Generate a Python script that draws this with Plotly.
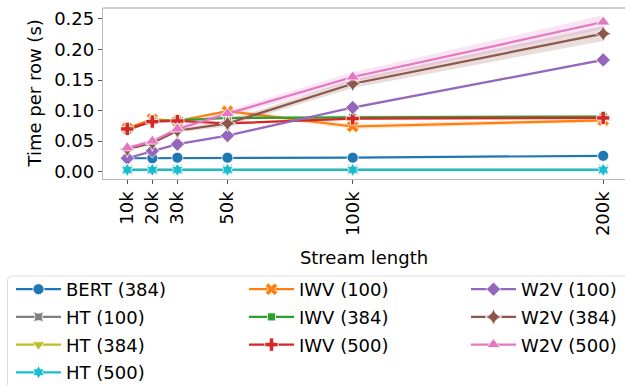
import plotly.graph_objects as go

# Stream lengths (rows) and their tick labels
stream_len = [10000, 20000, 30000, 50000, 100000, 200000]
tick_labels = ["10k", "20k", "30k", "50k", "100k", "200k"]

# Mean time per row (s) for each model
bert_384 = [0.022, 0.022, 0.023, 0.023, 0.023, 0.026]
iwv_100 = [0.071, 0.086, 0.083, 0.099, 0.074, 0.084]
iwv_384 = [0.068, 0.083, 0.084, 0.088, 0.089, 0.090]
iwv_500 = [0.070, 0.082, 0.083, 0.079, 0.087, 0.088]
w2v_100 = [0.022, 0.034, 0.045, 0.059, 0.105, 0.183]
w2v_384 = [0.037, 0.047, 0.067, 0.079, 0.144, 0.226]
w2v_500 = [0.039, 0.050, 0.070, 0.095, 0.155, 0.245]
ht_100 = [0.003, 0.003, 0.003, 0.003, 0.003, 0.003]
ht_384 = [0.003, 0.003, 0.003, 0.003, 0.003, 0.003]
ht_500 = [0.003, 0.003, 0.003, 0.003, 0.003, 0.003]

# Half-width of the 95% confidence band around each mean
bert_384_ci = [0.001, 0.001, 0.001, 0.001, 0.001, 0.001]
iwv_100_ci = [0.002, 0.002, 0.002, 0.003, 0.004, 0.003]
iwv_384_ci = [0.001, 0.001, 0.002, 0.002, 0.003, 0.003]
iwv_500_ci = [0.001, 0.001, 0.001, 0.002, 0.002, 0.002]
w2v_100_ci = [0.001, 0.001, 0.001, 0.002, 0.002, 0.002]
w2v_384_ci = [0.002, 0.002, 0.003, 0.005, 0.007, 0.012]
w2v_500_ci = [0.002, 0.002, 0.003, 0.005, 0.008, 0.011]
ht_100_ci = [0.0005, 0.0005, 0.0005, 0.0005, 0.0005, 0.0005]
ht_384_ci = [0.0005, 0.0005, 0.0005, 0.0005, 0.0005, 0.0005]
ht_500_ci = [0.0005, 0.0005, 0.0005, 0.0005, 0.0005, 0.0005]

# (name, mean, ci, colour, symbol, size, legend column) in drawing order
series = [
    ("BERT (384)", bert_384, bert_384_ci, "#1f77b4", "circle", 11, "legend"),
    ("IWV (100)", iwv_100, iwv_100_ci, "#ff7f0e", "x", 11, "legend2"),
    ("IWV (384)", iwv_384, iwv_384_ci, "#2ca02c", "square", 8, "legend2"),
    ("IWV (500)", iwv_500, iwv_500_ci, "#d62728", "cross", 11, "legend2"),
    ("W2V (100)", w2v_100, w2v_100_ci, "#9467bd", "diamond", 11, "legend3"),
    ("W2V (384)", w2v_384, w2v_384_ci, "#8c564b", "star-diamond", 12, "legend3"),
    ("W2V (500)", w2v_500, w2v_500_ci, "#e377c2", "triangle-up", 12, "legend3"),
    ("HT (100)", ht_100, ht_100_ci, "#7f7f7f", "star-square", 10, "legend"),
    ("HT (384)", ht_384, ht_384_ci, "#bcbd22", "triangle-down", 11, "legend"),
    ("HT (500)", ht_500, ht_500_ci, "#17becf", "hexagram", 10, "legend"),
]

legend_rank = {
    "BERT (384)": 1, "HT (100)": 2, "HT (384)": 3, "HT (500)": 4,
    "IWV (100)": 1, "IWV (384)": 2, "IWV (500)": 3,
    "W2V (100)": 1, "W2V (384)": 2, "W2V (500)": 3,
}


def rgba(hex_colour, alpha):
    h = hex_colour.lstrip("#")
    r, g, b = int(h[0:2], 16), int(h[2:4], 16), int(h[4:6], 16)
    return f"rgba({r},{g},{b},{alpha})"


fig = go.Figure()
for name, mean, ci, colour, symbol, size, leg in series:
    upper = [m + c for m, c in zip(mean, ci)]
    lower = [m - c for m, c in zip(mean, ci)]
    fig.add_trace(go.Scatter(
        x=stream_len + stream_len[::-1],
        y=upper + lower[::-1],
        fill="toself",
        fillcolor=rgba(colour, 0.2),
        line=dict(width=0),
        mode="lines",
        hoverinfo="skip",
        showlegend=False,
    ))
    fig.add_trace(go.Scatter(
        x=stream_len,
        y=mean,
        name=name,
        mode="lines+markers",
        line=dict(color=colour, width=2.2),
        marker=dict(symbol=symbol, size=size, color=colour,
                    line=dict(color="white", width=0.8)),
        legend=leg,
        legendgroup=name,
        legendrank=legend_rank[name],
    ))

# Figure geometry (pixels)
W, H = 625, 385
ML, MT, MB = 103, 8, 206
PW, PH = W - ML, H - MT - MB


def px_x(px):
    return (px - ML) / PW


def px_y(py):
    return (H - MB - py) / PH


legend_style = dict(
    font=dict(family="DejaVu Sans", size=18, color="#000000"),
    bgcolor="rgba(0,0,0,0)",
    borderwidth=0,
    orientation="v",
    xref="container",
    yref="container",
    xanchor="left",
    yanchor="top",
    tracegroupgap=1.3,
    itemwidth=45,
    traceorder="grouped",
)

fig.update_layout(
    width=W,
    height=H,
    margin=dict(l=ML, r=0, t=MT, b=MB, autoexpand=False),
    paper_bgcolor="white",
    plot_bgcolor="white",
    font=dict(family="DejaVu Sans", size=18, color="#000000"),
    legend=dict(x=11 / W, y=1 - 271 / H, **legend_style),
    legend2=dict(x=244 / W, y=1 - 271 / H, **legend_style),
    legend3=dict(x=466 / W, y=1 - 271 / H, **legend_style),
    xaxis=dict(
        range=[300, 208700],
        tickmode="array",
        tickvals=stream_len,
        ticktext=tick_labels,
        tickangle=-90,
        ticks="outside",
        ticklen=4,
        tickcolor="#555555",
        showgrid=False,
        zeroline=False,
        showline=True,
        linecolor="#bbbbbb",
        linewidth=1.3,
        tickfont=dict(size=18),
        title=dict(text="Stream length", font=dict(size=18), standoff=16),
    ),
    yaxis=dict(
        range=[-0.012, 0.268],
        tickmode="array",
        tickvals=[0, 0.05, 0.10, 0.15, 0.20, 0.25],
        tickformat=".2f",
        ticks="outside",
        ticklen=4,
        tickcolor="#555555",
        showgrid=False,
        zeroline=False,
        showline=True,
        linecolor="#bbbbbb",
        linewidth=1.3,
        tickfont=dict(size=18),
    ),
    annotations=[
        # y-axis title
        dict(text="Time per row (s)", textangle=-90, showarrow=False,
             xref="paper", yref="paper", x=px_x(34), y=0.5,
             xanchor="center", yanchor="middle",
             font=dict(family="DejaVu Sans", size=18, color="#000000")),
    ],
    shapes=[
        # top spine
        dict(type="line", xref="paper", yref="paper", x0=0, x1=1, y0=1, y1=1,
             line=dict(color="#bbbbbb", width=1.3)),
        # legend frame (rounded top-left corner, runs off the page)
        dict(type="path", xref="paper", yref="paper",
             path=(f"M {px_x(7.5)},{px_y(400)} L {px_x(7.5)},{px_y(280)} "
                   f"Q {px_x(7.5)},{px_y(276)} {px_x(11.5)},{px_y(276)} "
                   f"L {px_x(640)},{px_y(276)}"),
             line=dict(color="#dddddd", width=1)),
    ],
)

fig.write_html("out.html")
